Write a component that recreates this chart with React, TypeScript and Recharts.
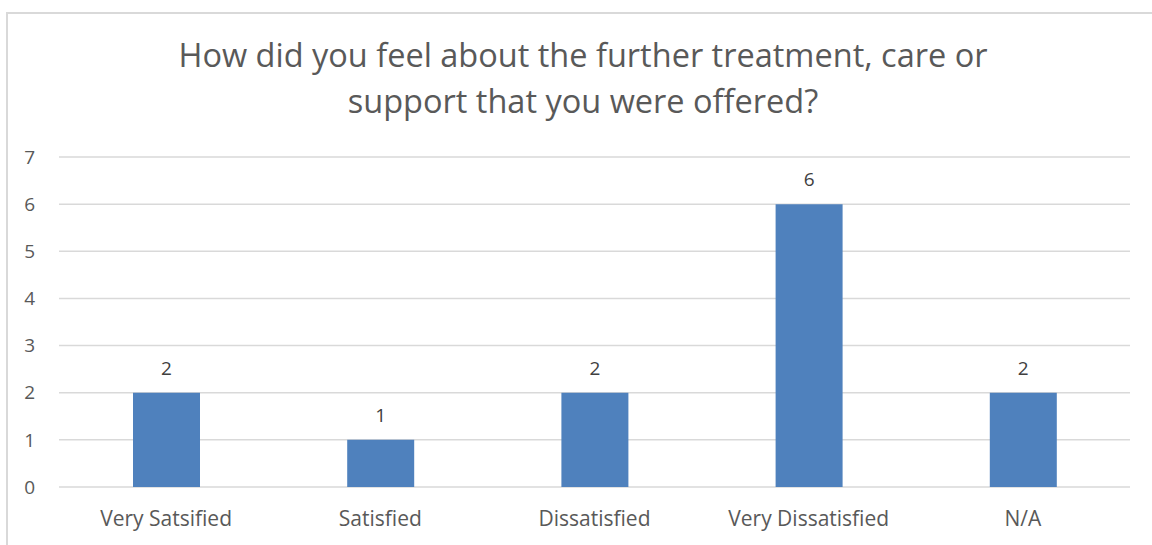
import { Bar, BarChart, CartesianGrid, LabelList, XAxis, YAxis } from "recharts";

const categories = ["Very Satsified", "Satisfied", "Dissatisfied", "Very Dissatisfied", "N/A"];
const responses = [2, 1, 2, 6, 2];
const yTicks = [0, 1, 2, 3, 4, 5, 6, 7];

const data = categories.map((name, i) => ({ name, value: responses[i] }));

const FONT = "'Open Sans', sans-serif";
const TEXT = "#595959";

export default function App() {
  return (
    <div
      style={{
        position: "fixed",
        left: 0,
        top: 0,
        width: 1152,
        height: 545,
        overflow: "hidden",
        background: "#fff",
        fontFamily: FONT,
      }}
    >
      <div
        style={{
          position: "absolute",
          left: 6,
          top: 12,
          width: 1200,
          height: 600,
          border: "2px solid #d9d9d9",
        }}
      />
      <div
        style={{
          position: "absolute",
          left: 0,
          top: 32,
          width: 1166,
          textAlign: "center",
          fontSize: 32.5,
          lineHeight: "46px",
          color: TEXT,
        }}
      >
        How did you feel about the further treatment, care or
        <br />
        support that you were offered?
      </div>
      <div style={{ position: "absolute", left: 0, top: 0 }}>
        <BarChart
          width={1152}
          height={545}
          data={data}
          margin={{ top: 157, right: 22, bottom: 0, left: 0 }}
          barCategoryGap={0}
        >
          <CartesianGrid vertical={false} stroke="#d9d9d9" strokeWidth={1.5} />
          <XAxis
            dataKey="name"
            height={58}
            axisLine={false}
            tickLine={false}
            tickSize={0}
            tickMargin={24}
            tick={{ fontSize: 21, fill: TEXT, fontFamily: FONT }}
            interval={0}
          />
          <YAxis
            width={59}
            domain={[0, 7]}
            ticks={yTicks}
            axisLine={false}
            tickLine={false}
            tickSize={0}
            tickMargin={24}
            tick={{ fontSize: 19, fill: TEXT, fontFamily: FONT }}
          />
          <Bar dataKey="value" fill="#4f81bd" barSize={67} isAnimationActive={false}>
            <LabelList dataKey="value" position="top" offset={18} fill="#404040" fontSize={19} fontFamily={FONT} />
          </Bar>
        </BarChart>
      </div>
    </div>
  );
}
